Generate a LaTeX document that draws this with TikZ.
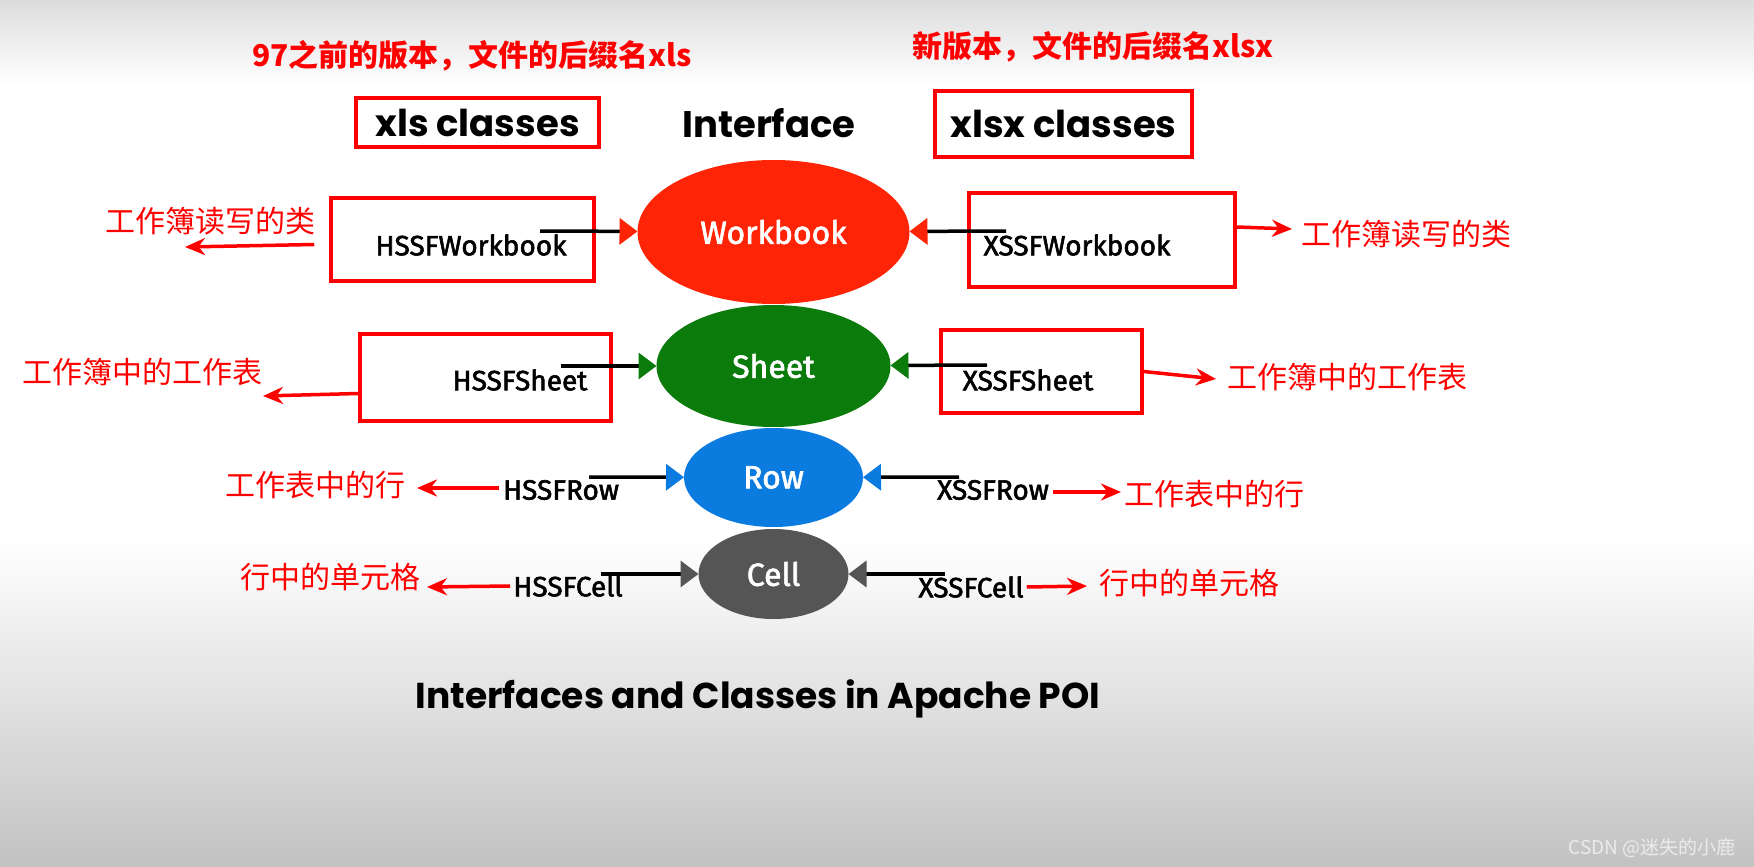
\documentclass[tikz,border=0pt]{standalone}
\usepackage{fontspec}
\setmainfont{Poppins}
\newfontfamily\classfont[FakeBold=2]{Fira Sans}
\newfontfamily\cjk{Noto Sans CJK SC}
\usepackage{tikz}
\usetikzlibrary{positioning,calc,arrows.meta,shapes.geometric}
\definecolor{wbred}{HTML}{FF2405}
\definecolor{shgreen}{HTML}{0B7B0B}
\definecolor{rowblue}{HTML}{0C7BE0}
\definecolor{cellgray}{HTML}{555555}
\definecolor{notered}{HTML}{FF0000}
\definecolor{bggray}{HTML}{C2C2C2}
\definecolor{topgray}{HTML}{DCDCDC}

\begin{document}
\begin{tikzpicture}[x=1pt,y=-1pt,
    oval/.style={ellipse,inner sep=0pt,outer sep=0pt,text=white,font=\classfont\fontsize{32}{36}\selectfont},
    redbox/.style={rectangle,draw=notered,line width=3.5pt,inner sep=0pt,fill=white},
    cls/.style={inner sep=0pt,font=\classfont\fontsize{28}{32}\selectfont},
    note/.style={inner sep=0pt,text=notered,font=\cjk\fontsize{30}{34}\selectfont},
    head/.style={inner sep=0pt,font=\bfseries\fontsize{37}{42}\selectfont},
    edge/.style={line width=3.5pt,black},
    notearrow/.style={-{Stealth[length=20pt,width=17pt]},line width=3.5pt,color=notered}]

    \useasboundingbox (0,0) rectangle (1754,867);
    \fill[white] (0,0) rectangle (1754,867);
    \shade[top color=topgray,bottom color=white] (0,0) rectangle (1754,85);
    \shade[top color=white,bottom color=bggray] (0,540) rectangle (1754,867);

    %--------------------------------------------
    % Interfaces
    \node[oval,fill=wbred,minimum width=272pt,minimum height=144pt] (wb) at (773.5,232) {Workbook};
    \node[oval,fill=shgreen,minimum width=234pt,minimum height=122pt,below=1pt of wb] (sh) {Sheet};
    \node[oval,fill=rowblue,minimum width=179pt,minimum height=99pt,below=1pt of sh] (row) {Row};
    \node[oval,fill=cellgray,minimum width=150pt,minimum height=90pt,below=2pt of row] (cell) {Cell};

    %--------------------------------------------
    % Headers
    \node[note,font=\cjk\bfseries\fontsize{30}{34}\selectfont] (xlsnote) at (472,56) {97之前的版本，文件的后缀名xls};
    \node[note,font=\cjk\bfseries\fontsize{30}{34}\selectfont] (xlsxnote) at (1093,47) {新版本，文件的后缀名xlsx};
    \node[redbox,head,minimum width=243pt,minimum height=49pt] (xls) at (477.5,122.5) {xls classes};
    \node[head] (iface) at (769,123) {Interface};
    \node[redbox,head,minimum width=257pt,minimum height=66pt] (xlsx) at (1063.5,124) {xlsx classes};

    %--------------------------------------------
    % Classes
    \node[redbox,minimum width=263pt,minimum height=83pt] (hwbbox) at (462.5,239.5) {};
    \node[redbox,minimum width=251pt,minimum height=87pt] (hshbox) at (485.5,377.5) {};
    \node[redbox,minimum width=266pt,minimum height=94pt] (xwbbox) at (1102,240) {};
    \node[redbox,minimum width=201pt,minimum height=83pt] (xshbox) at (1041.5,371.5) {};

    \node[cls] (hwb) at (471,245) {HSSFWorkbook};
    \node[cls] (hsh) at (520,380) {HSSFSheet};
    \node[cls] (hrow) at (561,490) {HSSFRow};
    \node[cls] (hcell) at (568,586) {HSSFCell};
    \node[cls] (xwb) at (1077,245) {XSSFWorkbook};
    \node[cls] (xsh) at (1028,380) {XSSFSheet};
    \node[cls] (xrow) at (993,490) {XSSFRow};
    \node[cls] (xcell) at (971,587) {XSSFCell};

    %--------------------------------------------
    % Notes
    \node[note] (hwbnote) at (210,221) {工作簿读写的类};
    \node[note] (hshnote) at (143,372) {工作簿中的工作表};
    \node[note] (hrownote) at (315,485) {工作表中的行};
    \node[note] (hcellnote) at (330,577) {行中的单元格};
    \node[note] (xwbnote) at (1406,234) {工作簿读写的类};
    \node[note] (xshnote) at (1347,377) {工作簿中的工作表};
    \node[note] (xrownote) at (1214,494) {工作表中的行};
    \node[note] (xcellnote) at (1189,583) {行中的单元格};

    \node[head,anchor=base,font=\bfseries\fontsize{36}{40}\selectfont] (title) at (758,708) {Interfaces and Classes in Apache POI};
    \node[inner sep=0pt,text=white!92!black,font=\cjk\fontsize{19}{22}\selectfont] (mark) at (1652,848) {CSDN @迷失的小鹿};

    %--------------------------------------------
    % Edges
    \coordinate (hwbs) at (540,231);
    \coordinate (hshs) at (561,366);
    \coordinate (hrows) at (589,477);
    \coordinate (hcells) at (601,574);
    \coordinate (xwbs) at (1006,231);
    \coordinate (xshs) at (987,365);
    \coordinate (xrows) at (959,477);
    \coordinate (xcells) at (945,574);

    \draw[edge,-{Triangle[length=18pt,width=26pt,color=wbred]}] (hwbs) -- (wb);
    \draw[edge,-{Triangle[length=18pt,width=26pt,color=shgreen]}] (hshs) -- (sh);
    \draw[edge,-{Triangle[length=18pt,width=26pt,color=rowblue]}] (hrows) -- (row);
    \draw[edge,-{Triangle[length=18pt,width=26pt,color=cellgray]}] (hcells) -- (cell);
    \draw[edge,-{Triangle[length=18pt,width=26pt,color=wbred]}] (xwbs) -- (wb);
    \draw[edge,-{Triangle[length=18pt,width=26pt,color=shgreen]}] (xshs) -- (sh);
    \draw[edge,-{Triangle[length=18pt,width=26pt,color=rowblue]}] (xrows) -- (row);
    \draw[edge,-{Triangle[length=18pt,width=26pt,color=cellgray]}] (xcells) -- (cell);

    % The notes
    \coordinate (hwbend) at (185,247);
    \coordinate (hshend) at (263,396);
    \coordinate (hrowend) at (417,488);
    \coordinate (hcellend) at (427,587);
    \coordinate (xwbend) at (1292,229);
    \coordinate (xshend) at (1216,379);
    \coordinate (xrowend) at (1121,492);
    \coordinate (xcellend) at (1087,586);

    \draw[notearrow] ([xshift=-15pt,yshift=-5pt]hwbbox.west) -- (hwbend);
    \draw[notearrow] ([yshift=-16pt]hshbox.west) -- (hshend);
    \draw[notearrow] ([xshift=-4pt,yshift=2pt]hrow.west) -- (hrowend);
    \draw[notearrow] ([xshift=-3pt]hcell.west) -- (hcellend);
    \draw[notearrow] ([yshift=13pt]xwbbox.east) -- (xwbend);
    \draw[notearrow] (xshbox.east) -- (xshend);
    \draw[notearrow] ([xshift=4pt,yshift=-2pt]xrow.east) -- (xrowend);
    \draw[notearrow] ([xshift=3pt]xcell.east) -- (xcellend);
\end{tikzpicture}
\end{document}
